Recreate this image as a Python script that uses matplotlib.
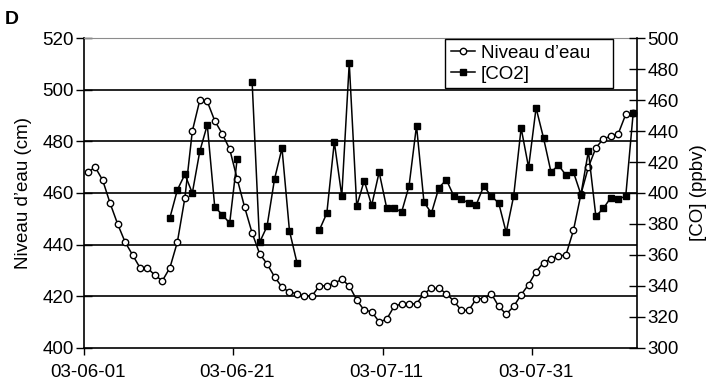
import numpy as np
import pandas as pd
import matplotlib
matplotlib.use("Agg")
import matplotlib.pyplot as plt
import matplotlib.dates as mdates

plt.rcParams['font.family'] = ['Liberation Sans', 'DejaVu Sans']

# Daily samples, 2003-06-01 .. 2003-08-13
dates = pd.date_range('2003-06-01', '2003-08-13', freq='D')

# Water level (cm), left axis
niveau = [468, 470, 465, 456, 448, 441, 436, 431, 431, 428,
          426, 431, 441, 458, 484, 496, 495.5, 488, 483, 477,
          465.5, 454.5, 444.5, 436.5, 432.5, 427.5, 423.5, 421.5, 421, 420,
          420, 424, 424, 425, 426.5, 424, 418.5, 414.5, 414, 410,
          411, 416, 417, 417, 417, 421, 423, 423, 421, 418,
          414.5, 414.5, 419, 419, 421, 416, 413, 416, 420.5, 424.5,
          429.5, 433, 434.5, 435.5, 436, 445.5, 459.5, 470, 477.5, 481,
          482, 483, 490.5, 491]

# CO (ppbv), right axis, nan = no measurement
nan = np.nan
co = [nan, nan, nan, nan, nan, nan, nan, nan, nan, nan,
      nan, 384, 402, 412, 400, 427, 444, 391, 386, 380.5,
      422, nan, 472, 368, 378.5, 409, 429, 375.5, 355, nan,
      nan, 376, 387, 433, 398, 484, 391.5, 408, 392, 413.5,
      390.5, 390.5, 387.5, 404.5, 443.5, 394, 387, 403.5, 408.5, 398,
      396, 393.5, 392.5, 404.5, 398, 393.5, 374.5, 398, 442, 416.5,
      455, 435.5, 413.5, 418, 411.5, 413.5, 399, 427, 385, 390,
      397, 396, 398, 452]

tick_dates = ['2003-06-01', '2003-06-21', '2003-07-11', '2003-07-31']
tick_labels = ['03-06-01', '03-06-21', '03-07-11', '03-07-31']

fs = 13.5

fig = plt.figure(figsize=(7.14, 3.88), dpi=100)
ax = fig.add_axes([0.1176, 0.1039, 0.7745, 0.7974])
ax2 = ax.twinx()

ax.plot(dates, niveau, '-o', color='black', lw=1.1, ms=4.6, mfc='white',
        mec='black', mew=1.0, label='Niveau d’eau')
ax2.plot(dates, co, '-s', color='black', lw=1.1, ms=5, label='[CO2]')

ax.set_ylim(400, 520)
ax2.set_ylim(300, 500)
ax.set_yticks(range(400, 521, 20))
ax2.set_yticks(range(300, 501, 20))

half = pd.Timedelta(hours=12)
ax.set_xlim(dates[0] - half, dates[-1] + half)
centers = [pd.Timestamp(d).to_pydatetime() for d in tick_dates]
bounds = [(pd.Timestamp(d) - half).to_pydatetime() for d in tick_dates]
ax.set_xticks(mdates.date2num(bounds))
ax.set_xticklabels([])
ax.set_xticks(mdates.date2num(centers), minor=True)
ax.set_xticklabels(tick_labels, minor=True)
ax.tick_params(axis='x', which='major', direction='out', length=5, width=1)
ax.tick_params(axis='x', which='minor', length=0, pad=12, labelsize=fs)

ax.tick_params(axis='y', direction='inout', length=11, width=1, labelsize=fs, pad=2)
ax2.tick_params(axis='y', direction='inout', length=11, width=1, labelsize=fs, pad=2)

ax.yaxis.grid(True, color='black', lw=1.2)
gl = ax.get_ygridlines()
gl[0].set_visible(False)
gl[-1].set_visible(False)

ax.spines['top'].set(color='0.55', linestyle=(0, (2, 1)), lw=0.8)
ax.spines['right'].set_visible(False)
ax.spines['left'].set_linewidth(1.2)
ax.spines['bottom'].set_linewidth(1.2)
for s in ['top', 'left', 'bottom']:
    ax2.spines[s].set_visible(False)
ax2.spines['right'].set_linewidth(1.2)

ax.set_ylabel('Niveau d’eau (cm)', fontsize=fs, labelpad=7)
ax2.set_ylabel('[CO] (ppbv)', fontsize=fs, labelpad=8)

handles = ax.get_lines()[:1] + ax2.get_lines()[:1]
leg = ax2.legend(handles, [h.get_label() for h in handles], loc='upper left',
                 bbox_to_anchor=(0.653, 0.82, 0.304, 0.177), mode='expand',
                 borderaxespad=0, fontsize=fs, handlelength=1.3,
                 handletextpad=0.3, borderpad=0.3, labelspacing=0.2,
                 fancybox=False, framealpha=1, edgecolor='black')
leg.get_frame().set_linewidth(1.0)

fig.text(0.006, 0.972, 'D', fontsize=14, fontweight='bold', va='top', ha='left')

fig.savefig('out.png', dpi=100)
